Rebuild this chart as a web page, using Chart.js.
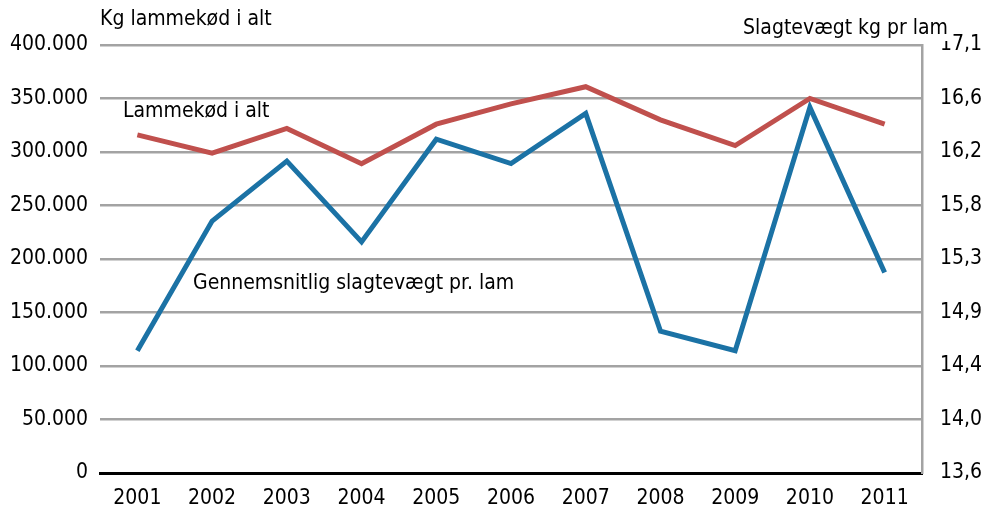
<!DOCTYPE html>
<html><head><meta charset="utf-8">
<script src="https://cdn.jsdelivr.net/npm/chart.js@4"></script>
<style>html,body{margin:0;padding:0;background:#fff;}#wrap{width:999px;height:515px;position:relative;}</style>
</head><body><div id="wrap"><canvas id="c" width="999" height="515"></canvas></div>
<script>
const years = ['2001','2002','2003','2004','2005','2006','2007','2008','2009','2010','2011'];
const lammekoed = [316000, 299000, 322000, 289000, 326000, 345000, 361000, 330000, 306000, 350000, 326000];
const slagtevaegt = [14.60, 15.66, 16.15, 15.49, 16.33, 16.13, 16.54, 14.76, 14.60, 16.59, 15.24];
const rightTickLabels = ['13,6','14,0','14,4','14,9','15,3','15,8','16,2','16,6','17,1'];
const leftTitle = 'Kg lammekød i alt';
const rightTitle = 'Slagtevægt kg pr lam';
const redLabel = 'Lammekød i alt';
const blueLabel = 'Gennemsnitlig slagtevægt pr. lam';

const FONT = '"Liberation Sans Narrow", "DejaVu Sans Condensed", sans-serif';
const FS = 21;
const RED = '#c0504d', BLUE = '#1b72a5', GRID = '#a3a3a3';

function fmt(v){ return String(Math.round(v)).replace(/\B(?=(\d{3})+(?!\d))/g, '.'); }

const labelsPlugin = {
  id: 'labels',
  afterDraw(chart){
    const ctx = chart.ctx;
    ctx.save();
    ctx.font = FS + 'px ' + FONT;
    ctx.textBaseline = 'middle';
    function boxText(t, x, yy, align){
      ctx.textAlign = align;
      const w = ctx.measureText(t).width;
      const x0 = align === 'right' ? x - w : x;
      ctx.fillStyle = '#fff';
      ctx.fillRect(x0 - 2, yy - 12, w + 4, 24);
      ctx.fillStyle = '#000';
      ctx.fillText(t, x, yy);
    }
    ctx.fillStyle = '#000';
    ctx.textAlign = 'left';
    ctx.fillText(leftTitle, 100, 20);
    boxText(rightTitle, 948, 29, 'right');
    boxText(redLabel, 123, 112, 'left');
    boxText(blueLabel, 193, 284, 'left');
    ctx.restore();
  }
};

new Chart(document.getElementById('c'), {
  type: 'line',
  data: {
    labels: years,
    datasets: [
      { data: lammekoed, yAxisID: 'y', borderColor: RED, borderWidth: 5, pointRadius: 0, tension: 0, order: 1 },
      { data: slagtevaegt, yAxisID: 'y2', borderColor: BLUE, borderWidth: 5, pointRadius: 0, tension: 0, order: 2 }
    ]
  },
  options: {
    responsive: false,
    animation: false,
    events: [],
    layout: { padding: { top: 45, left: 0, right: 0, bottom: 0 } },
    plugins: { legend: { display: false }, tooltip: { enabled: false } },
    scales: {
      x: {
        offset: true,
        grid: { display: false, drawTicks: false },
        border: { display: true, color: '#000', width: 3 },
        ticks: { color: '#000', font: { family: FONT, size: FS }, padding: 13, maxRotation: 0, autoSkip: false },
        afterFit(s){ s.height = 42; }
      },
      y: {
        position: 'left',
        min: 0, max: 400000,
        ticks: { stepSize: 50000, color: '#000', font: { family: FONT, size: FS }, padding: 12, callback: v => fmt(v) },
        grid: { drawTicks: false, lineWidth: 2.5, color: ctx => (ctx.tick && ctx.tick.value === 0) ? 'rgba(0,0,0,0)' : GRID },
        border: { display: false },
        afterFit(s){ s.width = 100; }
      },
      y2: {
        position: 'right',
        min: 13.6, max: 17.1,
        afterBuildTicks(s){ s.ticks = rightTickLabels.map((t, i) => ({ value: 13.6 + i * 0.4375 })); },
        ticks: { color: '#000', font: { family: FONT, size: FS }, padding: 18, callback: (v, i) => rightTickLabels[i] },
        grid: { display: false, drawTicks: false },
        border: { display: true, color: GRID, width: 2.5 },
        afterFit(s){ s.width = 77; }
      }
    }
  },
  plugins: [labelsPlugin]
});
</script></body></html>
